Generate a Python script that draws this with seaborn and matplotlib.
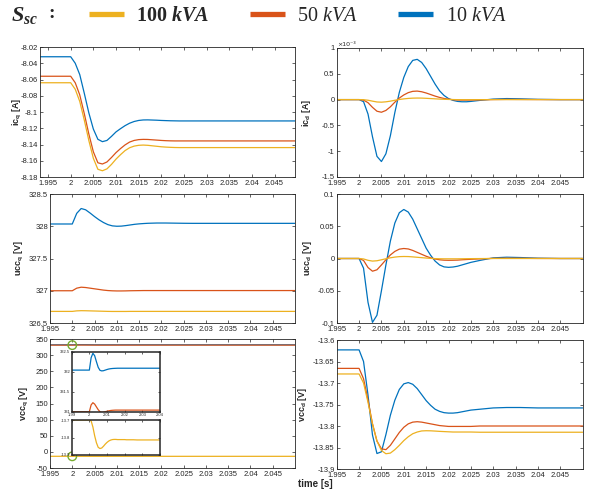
import matplotlib.pyplot as plt
import matplotlib.ticker as mticker
import numpy as np
import seaborn as sns

# time samples [s] (shared by all series)
t = [1.99, 2.000,
     2.001, 2.002, 2.003, 2.004, 2.005,
     2.006, 2.007, 2.008, 2.009, 2.010,
     2.011, 2.012, 2.013, 2.014, 2.015,
     2.016, 2.017, 2.018, 2.019, 2.020,
     2.021, 2.022, 2.023, 2.024, 2.025,
     2.027, 2.030, 2.033, 2.036, 2.040, 2.045, 2.050]

# ic_q [A]
icq_10 = [-8.032, -8.032,
          -8.040, -8.054, -8.077, -8.101, -8.121,
          -8.1336, -8.1365, -8.135, -8.130, -8.1245,
          -8.1205, -8.1168, -8.1138, -8.1117, -8.1104,
          -8.1098, -8.1097, -8.1099, -8.1101, -8.1104,
          -8.1106, -8.1108, -8.1109, -8.111, -8.111,
          -8.111, -8.111, -8.111, -8.111, -8.111, -8.111, -8.111]
icq_50 = [-8.056, -8.056,
          -8.064, -8.079, -8.102, -8.127, -8.149,
          -8.1625, -8.164, -8.1615, -8.156, -8.150,
          -8.145, -8.1405, -8.137, -8.135, -8.134,
          -8.1337, -8.1338, -8.1342, -8.1346, -8.135,
          -8.1353, -8.1355, -8.1356, -8.1356, -8.1356,
          -8.1356, -8.1356, -8.1356, -8.1356, -8.1356, -8.1356, -8.1356]
icq_100 = [-8.064, -8.064,
           -8.072, -8.087, -8.110, -8.135, -8.157,
           -8.1705, -8.1723, -8.170, -8.1645, -8.158,
           -8.1525, -8.1475, -8.144, -8.142, -8.141,
           -8.1407, -8.141, -8.1416, -8.1422, -8.1428,
           -8.1432, -8.1435, -8.1437, -8.1438, -8.1438,
           -8.1438, -8.1438, -8.1438, -8.1438, -8.1438, -8.1438, -8.1438]

# ic_d [x1e-3 A]
icd_10 = [0, 0,
          -0.04, -0.28, -0.72, -1.10, -1.20,
          -1.05, -0.70, -0.25, 0.14, 0.43,
          0.64, 0.76, 0.78, 0.72, 0.60,
          0.45, 0.30, 0.17, 0.08, 0.02,
          -0.015, -0.035, -0.042, -0.042, -0.035,
          -0.015, 0.01, 0.02, 0.015, 0.005, 0, 0]
icd_50 = [0, 0,
          -0.01, -0.06, -0.15, -0.225, -0.245,
          -0.21, -0.14, -0.05, 0.03, 0.09,
          0.135, 0.16, 0.165, 0.152, 0.128,
          0.098, 0.068, 0.042, 0.022, 0.008,
          -0.002, -0.008, -0.01, -0.01, -0.009,
          -0.005, 0.001, 0.004, 0.003, 0.001, 0, 0]
icd_100 = [0, 0,
           -0.002, -0.012, -0.03, -0.046, -0.05,
           -0.043, -0.03, -0.013, 0.002, 0.014,
           0.023, 0.028, 0.03, 0.029, 0.025,
           0.02, 0.015, 0.01, 0.006, 0.003,
           0.001, -0.001, -0.002, -0.002, -0.002,
           -0.001, 0, 0, 0, 0, 0, 0]

# ucc_q [V]
uccq_10 = [328.035, 328.035,
           328.20, 328.275, 328.255, 328.205, 328.15,
           328.10, 328.058, 328.025, 328.006, 328.0,
           328.002, 328.01, 328.02, 328.03, 328.037,
           328.042, 328.046, 328.048, 328.05, 328.05,
           328.05, 328.049, 328.048, 328.047, 328.046,
           328.045, 328.045, 328.045, 328.045, 328.045, 328.045, 328.045]
uccq_50 = [327.0, 327.0,
           327.04, 327.055, 327.05, 327.04, 327.03,
           327.02, 327.01, 327.003, 326.999, 326.997,
           326.997, 326.998, 327.0, 327.001, 327.002,
           327.003, 327.003, 327.003, 327.003, 327.003,
           327.003, 327.003, 327.003, 327.003, 327.003,
           327.003, 327.003, 327.003, 327.003, 327.003, 327.003, 327.003]
uccq_100 = [326.68, 326.68,
            326.688, 326.691, 326.69, 326.688, 326.686,
            326.684, 326.682, 326.68, 326.679, 326.679,
            326.679, 326.679, 326.68, 326.68, 326.68,
            326.68, 326.68, 326.68, 326.68, 326.68,
            326.68, 326.68, 326.68, 326.68, 326.68,
            326.68, 326.68, 326.68, 326.68, 326.68, 326.68, 326.68]

# ucc_d [V]
uccd_10 = [0, 0,
           -0.015, -0.068, -0.099, -0.088, -0.05,
           -0.01, 0.027, 0.055, 0.071, 0.076,
           0.072, 0.061, 0.046, 0.031, 0.016,
           0.005, -0.004, -0.01, -0.013, -0.0137,
           -0.0132, -0.012, -0.01, -0.008, -0.006,
           -0.003, 0.001, 0.002, 0.0015, 0.0005, 0, 0]
uccd_50 = [0, 0,
           -0.003, -0.014, -0.0197, -0.0175, -0.01,
           -0.002, 0.0055, 0.011, 0.0145, 0.0155,
           0.0148, 0.0125, 0.0095, 0.0065, 0.0035,
           0.001, -0.0008, -0.002, -0.0026, -0.0028,
           -0.0027, -0.0025, -0.002, -0.0016, -0.0012,
           -0.0006, 0.0002, 0.0004, 0.0003, 0.0001, 0, 0]
uccd_100 = [0, 0,
            -0.0007, -0.0028, -0.004, -0.0035, -0.002,
            -0.0004, 0.0011, 0.0022, 0.0029, 0.0031,
            0.003, 0.0025, 0.0019, 0.0013, 0.0007,
            0.0002, -0.0002, -0.0004, -0.0005, -0.0005,
            -0.0005, -0.0005, -0.0004, -0.0003, -0.0002,
            -0.0001, 0, 0, 0, 0, 0, 0]

# vcc_q [V]
vccq_10 = [332.04, 332.04,
           332.35, 332.46, 332.40, 332.25, 332.11,
           332.035, 332.02, 332.025, 332.04, 332.055,
           332.067, 332.075, 332.08, 332.083, 332.085,
           332.087, 332.087, 332.087, 332.087, 332.087,
           332.087, 332.087, 332.087, 332.087, 332.087,
           332.087, 332.087, 332.087, 332.087, 332.087, 332.087, 332.087]
vccq_50 = [331.0, 331.0,
           331.17, 331.225, 331.19, 331.12, 331.05,
           331.0, 330.985, 330.99, 331.0, 331.012,
           331.022, 331.03, 331.035, 331.038, 331.04,
           331.04, 331.04, 331.04, 331.04, 331.04,
           331.04, 331.04, 331.04, 331.04, 331.04,
           331.04, 331.04, 331.04, 331.04, 331.04, 331.04, 331.04]
vccq_100 = [-13.70, -13.70,
            -13.705, -13.74, -13.79, -13.83, -13.856,
            -13.863, -13.86, -13.85, -13.838, -13.828,
            -13.82, -13.815, -13.812, -13.811, -13.811,
            -13.812, -13.812, -13.812, -13.812, -13.812,
            -13.813, -13.813, -13.813, -13.813, -13.813,
            -13.814, -13.814, -13.814, -13.814, -13.814, -13.814, -13.814]

# vcc_d [V]
vccd_10 = [-13.623, -13.623,
           -13.65, -13.728, -13.821, -13.864, -13.86,
           -13.82, -13.775, -13.74, -13.715, -13.702,
           -13.699, -13.703, -13.713, -13.727, -13.741,
           -13.752, -13.761, -13.766, -13.769, -13.77,
           -13.77, -13.769, -13.767, -13.765, -13.763,
           -13.761, -13.758, -13.757, -13.757, -13.758, -13.758, -13.758]
vccd_50 = [-13.666, -13.666,
           -13.69, -13.74, -13.795, -13.835, -13.853,
           -13.855, -13.845, -13.83, -13.815, -13.803,
           -13.795, -13.791, -13.79, -13.791, -13.793,
           -13.795, -13.797, -13.799, -13.8, -13.801,
           -13.801, -13.801, -13.801, -13.801, -13.801,
           -13.8, -13.8, -13.8, -13.8, -13.8, -13.8, -13.8]
vccd_100 = [-13.679, -13.679,
            -13.70, -13.745, -13.795, -13.835, -13.857,
            -13.8645, -13.863, -13.855, -13.845, -13.834,
            -13.825, -13.818, -13.814, -13.8115, -13.811,
            -13.8112, -13.8118, -13.8125, -13.813, -13.8135,
            -13.814, -13.814, -13.814, -13.814, -13.814,
            -13.8145, -13.8145, -13.8145, -13.8145, -13.8145, -13.8145, -13.8145]

# highlighted start points in the vcc_q panel
mark_t = [2.0, 2.0]
mark_v = [331.0, -13.7]

ssc_labels = ['10', '50', '100']
colors = {'10': '#0072BD', '50': '#D95319', '100': '#EDB120'}

sns.set_style('ticks')
plt.rcParams['font.family'] = ['Liberation Sans', 'DejaVu Sans']
plt.rcParams['axes.unicode_minus'] = False
plt.rcParams['mathtext.fontset'] = 'custom'
plt.rcParams['mathtext.rm'] = 'Liberation Serif'
plt.rcParams['mathtext.it'] = 'Liberation Serif:italic'
plt.rcParams['mathtext.bf'] = 'Liberation Serif:bold:italic'
plt.rcParams['mathtext.sf'] = 'Liberation Sans:bold'

W, H = 597, 494
fig = plt.figure(figsize=(W / 100, H / 100), dpi=100)
fig.patch.set_facecolor('white')


def px_axes(x0, y0, x1, y1):
    return fig.add_axes([x0 / W, 1 - y1 / H, (x1 - x0) / W, (y1 - y0) / H])


fmt = mticker.FuncFormatter(lambda v, p: f'{round(v, 6) + 0:g}')


def style(ax, xlim, ylim, yticks, xticks=None, fs=5.5, tl=2.5, lw=0.6):
    ax.set_xlim(*xlim)
    ax.set_ylim(*ylim)
    ax.set_xticks(np.arange(1.995, 2.0451, 0.005) if xticks is None else xticks)
    ax.set_yticks(yticks)
    ax.xaxis.set_major_formatter(fmt)
    ax.yaxis.set_major_formatter(fmt)
    ax.tick_params(direction='in', length=tl, width=0.5, top=True, right=True,
                   labelsize=fs, colors='#262626', pad=1.5)
    ax.tick_params(axis='x', pad=2.4)
    for s in ax.spines.values():
        s.set_visible(True)
        s.set_color('#262626')
        s.set_linewidth(lw)
    ax.set_xlabel('')
    ax.set_ylabel('')
    ax.set_facecolor('white')


def draw(ax, series, keys=ssc_labels):
    for k in keys:
        sns.lineplot(x=t, y=series[k], ax=ax, color=colors[k], lw=0.9,
                     estimator=None, sort=False)


def ylab(ax, text, xpos):
    ax.set_ylabel(text, fontsize=6.5, fontweight='bold', color='#262626')
    ax.yaxis.set_label_coords(xpos, 0.5)


# top row
ax1 = px_axes(40.3, 47, 295, 177)
draw(ax1, {'10': icq_10, '50': icq_50, '100': icq_100})
style(ax1, (1.99329, 2.04951), (-8.18, -8.02), np.arange(-8.18, -8.019, 0.02))
ylab(ax1, r'$\mathsf{ic_q}$ [A]', -0.064)

ax2 = px_axes(336.7, 48, 582.7, 177)
draw(ax2, {'10': icd_10, '50': icd_50, '100': icd_100})
style(ax2, (1.995, 2.05), (-1.5, 1.0), np.arange(-1.5, 1.01, 0.5))
ax2.text(0.0, 1.01, '×10⁻³', transform=ax2.transAxes, ha='left', va='bottom',
         fontsize=4.5, color='#262626', family='DejaVu Sans')
ylab(ax2, r'$\mathsf{ic_d}$ [A]', -0.096)

# middle row
ax3 = px_axes(50, 194, 295, 323)
draw(ax3, {'10': uccq_10, '50': uccq_50, '100': uccq_100})
style(ax3, (1.995, 2.05), (326.5, 328.5), np.arange(326.5, 328.51, 0.5))
ylab(ax3, r'$\mathsf{ucc_q}$ [V]', -0.098)

ax4 = px_axes(336.7, 194, 582.7, 323)
draw(ax4, {'10': uccd_10, '50': uccd_50, '100': uccd_100})
style(ax4, (1.995, 2.05), (-0.1, 0.1), np.arange(-0.1, 0.101, 0.05))
ylab(ax4, r'$\mathsf{ucc_d}$ [V]', -0.092)

# bottom row
ax5 = px_axes(50, 339, 295, 468)
draw(ax5, {'10': vccq_10, '50': vccq_50, '100': vccq_100})
style(ax5, (1.995, 2.05), (-50, 350), np.arange(-50, 351, 50))
ax5.scatter(mark_t, mark_v, s=38, facecolors='none', edgecolors='#77AC30',
            linewidths=1.0, zorder=5, clip_on=False)
ylab(ax5, r'$\mathsf{vcc_q}$ [V]', -0.078)

ax6 = px_axes(336.7, 340, 582.7, 469)
draw(ax6, {'10': vccd_10, '50': vccd_50, '100': vccd_100})
style(ax6, (1.995, 2.05), (-13.9, -13.6), np.arange(-13.9, -13.599, 0.05))
ylab(ax6, r'$\mathsf{vcc_d}$ [V]', -0.113)

# zoom insets of the vcc_q panel
in1 = px_axes(71.7, 351.7, 160, 411.7)
draw(in1, {'10': vccq_10, '50': vccq_50}, keys=['10', '50'])
style(in1, (1.99, 2.04), (331, 332.5), np.arange(331, 332.51, 0.5),
      xticks=np.arange(1.99, 2.0401, 0.01), fs=3, tl=1.5, lw=1.1)
in1.tick_params(pad=1)

in2 = px_axes(71.7, 420, 160, 455)
draw(in2, {'100': vccq_100}, keys=['100'])
style(in2, (1.99, 2.04), (-13.9, -13.7), np.arange(-13.9, -13.69, 0.1),
      xticks=np.arange(1.99, 2.0401, 0.01), fs=3, tl=1.5, lw=1.1)
in2.tick_params(labelbottom=False, pad=1)

fig.text(315 / W, 1 - 484 / H, 'time [s]', ha='center', va='center',
         fontsize=7, fontweight='bold', color='#262626')

# legend header
fig.text(11 / W, 1 - 16 / H, r'$\mathbf{S_{sc}}$', fontsize=16, va='center')
fig.text(48 / W, 1 - 14 / H, ':', fontsize=14, fontweight='bold',
         family='Liberation Serif', va='center')

handles = {k: ax1.lines[i] for i, k in enumerate(ssc_labels)}
leg = fig.legend([handles['100'], handles['50'], handles['10']],
                 [r'100 $\mathbf{kVA}$', r'50 $\mathit{kVA}$', r'10 $\mathit{kVA}$'],
                 loc='center left', bbox_to_anchor=(89 / W, 1 - 16 / H), ncol=3,
                 frameon=False, prop={'family': 'Liberation Serif', 'size': 14.5},
                 handlelength=1.75, handletextpad=0.6, columnspacing=2.0,
                 borderpad=0, borderaxespad=0)
for ln in leg.get_lines():
    ln.set_linewidth(3.8)
    ln.set_solid_capstyle('butt')
leg.get_texts()[0].set_fontweight('bold')

fig.savefig('out.png', dpi=100)
